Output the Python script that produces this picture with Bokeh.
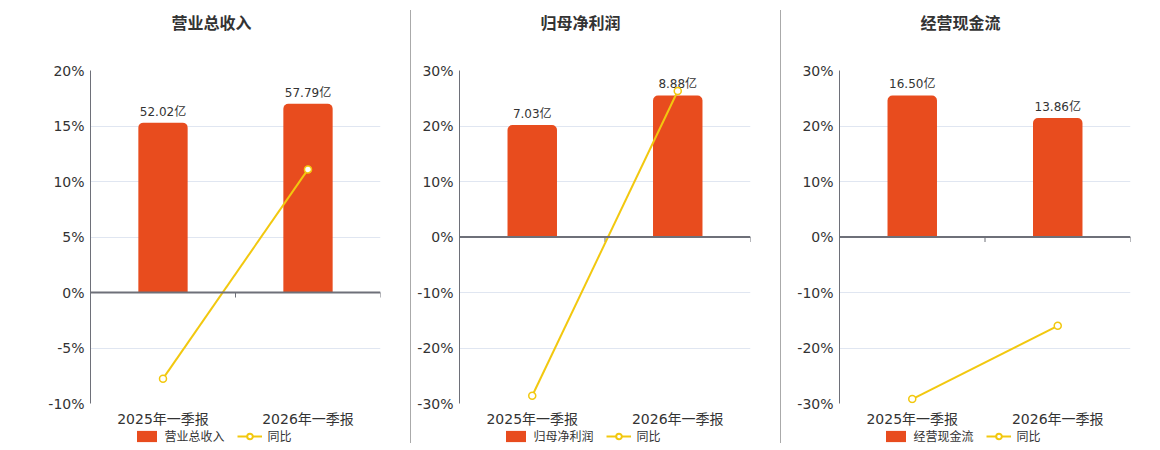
import math
from bokeh.plotting import figure
from bokeh.models import (FactorRange, Range1d, Span, Legend, LegendItem, Label,
                          PrintfTickFormatter, FixedTicker, Div, ColumnDataSource)
from bokeh.layouts import row, column
from bokeh.embed import file_html
from bokeh.resources import INLINE
from bokeh.core.properties import value

# ---------------- data ----------------
categories = ["2025年一季报", "2026年一季报"]
titles = ["营业总收入", "归母净利润", "经营现金流"]
revenue = [52.02, 57.79]
net_profit = [7.03, 8.88]
cash_flow = [16.50, 13.86]
revenue_yoy = [-7.76, 11.09]
net_profit_yoy = [-28.6, 26.3]
cash_flow_yoy = [-29.2, -16.0]
yoy_label = "同比"
unit = "亿"
ticks_revenue = [-10, -5, 0, 5, 10, 15, 20]
ticks_profit = [-30, -20, -10, 0, 10, 20, 30]
ticks_cash = [-30, -20, -10, 0, 10, 20, 30]

# ---------------- style ----------------
FONT = "DejaVu Sans, Noto Sans CJK SC"
BAR_COLOR = "#E84C1E"
LINE_COLOR = "#F2C80F"
AXIS_COLOR = "#6E7079"
GRID_COLOR = "#E0E6F1"
TEXT_COLOR = "#333333"
TITLE_H = 40
MAIN_H = 389
LEG_H = 15
MAIN_TOP = 30
FRAME_H = 335
MAIN_BOTTOM = MAIN_H - MAIN_TOP - FRAME_H

panels = [
    (titles[0], revenue, revenue_yoy, ticks_revenue, 410, 90, 30),
    (titles[1], net_profit, net_profit_yoy, ticks_profit, 369, 48, 30),
    (titles[2], cash_flow, cash_flow_yoy, ticks_cash, 379, 58, 30),
]


def bare_figure(width, height):
    f = figure(width=width, height=height, x_range=Range1d(0, 1), y_range=Range1d(0, 1),
               x_axis_type=None, y_axis_type=None, output_backend="svg",
               toolbar_location=None, min_border=0)
    f.min_border_left = f.min_border_right = f.min_border_top = f.min_border_bottom = 0
    f.outline_line_color = None
    f.background_fill_color = "white"
    f.border_fill_color = "white"
    f.xgrid.grid_line_color = None
    f.ygrid.grid_line_color = None
    return f


def make_panel(title, bars, yoy, ticks, width, bl, br):
    lo, hi = ticks[0], ticks[-1]

    # ---- title strip (its frame is aligned with the chart's plot area) ----
    tf = bare_figure(width, TITLE_H)
    tf.add_layout(Label(x=121, y=TITLE_H - 23, x_units="screen", y_units="screen",
                        text=title, text_align="center", text_baseline="middle",
                        text_font=FONT, text_font_size="16px", text_font_style="bold",
                        text_color=TEXT_COLOR))

    # ---- main chart ----
    p = figure(width=width, height=MAIN_H, x_range=FactorRange(*categories),
               y_range=Range1d(lo, hi), output_backend="svg", toolbar_location=None,
               min_border_left=bl, min_border_right=br, min_border_top=MAIN_TOP,
               min_border_bottom=MAIN_BOTTOM)
    p.outline_line_color = None
    p.background_fill_color = "white"
    p.border_fill_color = "white"

    bar_end = max(bars) / 0.85
    bar_start = bar_end * lo / hi
    p.extra_y_ranges = {"bar": Range1d(bar_start, bar_end)}

    p.yaxis.ticker = FixedTicker(ticks=ticks)
    p.yaxis.formatter = PrintfTickFormatter(format="%d%%")
    p.yaxis.axis_line_color = AXIS_COLOR
    p.yaxis.major_tick_out = 0
    p.yaxis.major_tick_in = 0
    p.yaxis.minor_tick_line_color = None
    p.yaxis.major_label_standoff = 6
    p.yaxis.major_label_text_font = FONT
    p.yaxis.major_label_text_font_size = "14px"
    p.yaxis.major_label_text_color = TEXT_COLOR

    p.xaxis.axis_line_alpha = 0
    p.xaxis.major_tick_out = 0
    p.xaxis.major_tick_in = 0
    p.xaxis.minor_tick_line_color = None
    p.xaxis.major_label_standoff = 7
    p.xaxis.major_label_text_font = FONT
    p.xaxis.major_label_text_font_size = "14px"
    p.xaxis.major_label_text_color = TEXT_COLOR

    p.xgrid.grid_line_color = None
    p.ygrid.grid_line_color = GRID_COLOR
    p.ygrid.grid_line_width = 1

    src = ColumnDataSource(dict(x=categories, top=bars,
                                lbl=[f"{v:.2f}{unit}" for v in bars], yoy=yoy))
    p.vbar(x="x", top="top", bottom=0, width=0.34, source=src,
           y_range_name="bar", fill_color=BAR_COLOR, line_alpha=0,
           border_radius=(5, 5, 0, 0))
    p.text(x="x", y="top", text="lbl", source=src, y_range_name="bar",
           y_offset=-4, text_align="center", text_baseline="bottom",
           text_font=value(FONT), text_font_size="12px", text_color=TEXT_COLOR)

    p.add_layout(Span(location=0, dimension="width", line_color=AXIS_COLOR, line_width=2))
    p.ray(x=list(range(1, len(categories) + 1)), y=[0] * len(categories), length=5,
          length_units="screen", angle=-math.pi / 2, line_color=AXIS_COLOR, line_width=1)

    p.line(x="x", y="yoy", source=src, line_color=LINE_COLOR, line_width=2)
    p.scatter(x="x", y="yoy", source=src, marker="circle", size=7,
              line_color=LINE_COLOR, line_width=1.5, fill_color="white")

    # ---- legend strip (hidden proxy renderers only feed the legend swatches) ----
    lf = bare_figure(width, LEG_H)
    proxy = ColumnDataSource(dict(x=[0], y=[0]))
    leg_bar = lf.vbar(x="x", top="y", width=0.3, source=proxy, fill_color=BAR_COLOR,
                      line_alpha=0, border_radius=4, visible=False)
    leg_line = lf.line(x="x", y="y", source=proxy, line_color=LINE_COLOR, line_width=2,
                       visible=False)
    leg_pt = lf.scatter(x="x", y="y", source=proxy, marker="circle", size=11,
                        line_color=LINE_COLOR, line_width=2, fill_color="white",
                        visible=False)
    legend = Legend(items=[LegendItem(label=title, renderers=[leg_bar]),
                           LegendItem(label=yoy_label, renderers=[leg_line, leg_pt])],
                    orientation="horizontal", location=(43.5, 0),
                    glyph_width=25, glyph_height=14, label_standoff=6, spacing=12,
                    padding=0, margin=0, border_line_alpha=0, background_fill_alpha=0,
                    label_text_font=FONT, label_text_font_size="12px",
                    label_text_color=TEXT_COLOR)
    lf.add_layout(legend)

    return column(tf, p, lf, spacing=0)


cols = [make_panel(*pp) for pp in panels]


def sep():
    return Div(width=1, height=433, margin=(10, 0, 0, 0),
               styles={"background-color": "#aaaaaa"})


layout = row(cols[0], sep(), cols[1], sep(), cols[2])

with open("out.html", "w") as f:
    f.write(file_html(layout, INLINE))
